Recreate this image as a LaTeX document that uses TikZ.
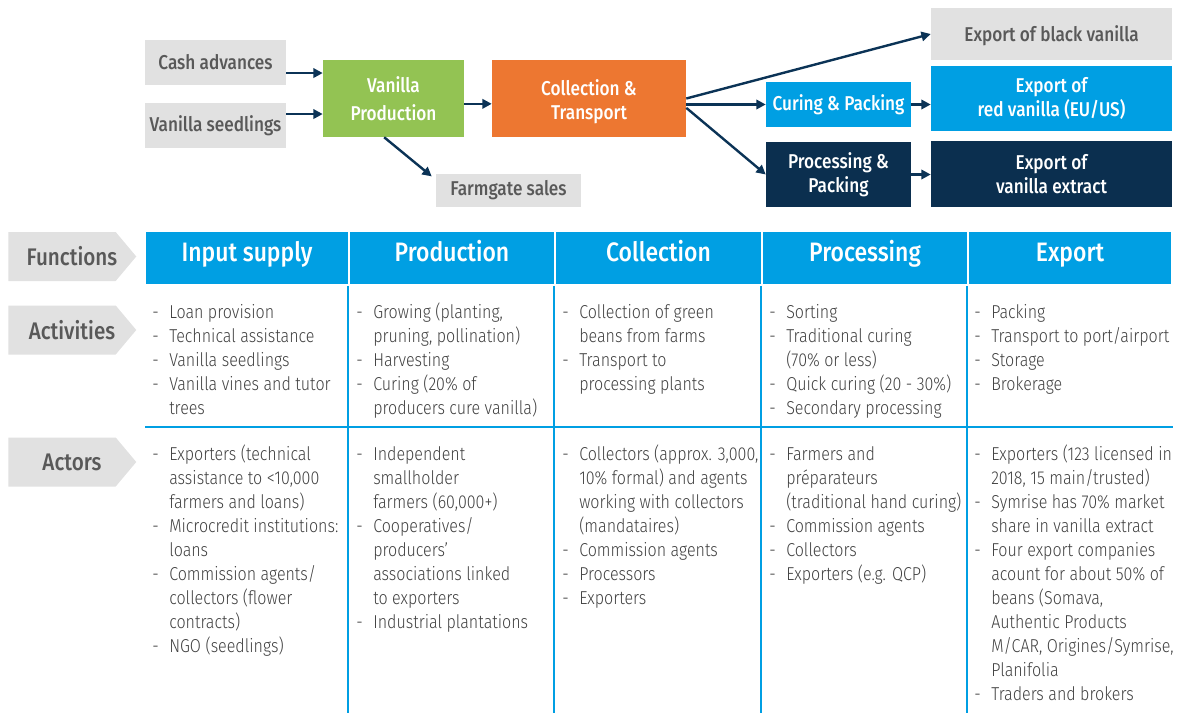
\documentclass[tikz,border=0pt]{standalone}
\usepackage{fontspec}
\IfFontExistsTF{Fira Sans Light}{%
  \IfFontExistsTF{Fira Sans Medium}{%
    \setmainfont{Fira Sans}[FakeStretch=0.86,UprightFont=* Light,BoldFont=* Medium]}{%
    \setmainfont{Fira Sans}[FakeStretch=0.86,UprightFont=* Light]}}{%
  \setmainfont{Fira Sans}[FakeStretch=0.86]}
\usetikzlibrary{arrows.meta,positioning,shapes.symbols}
\definecolor{vanGreen}{HTML}{93C353}
\definecolor{vanOrange}{HTML}{ED7731}
\definecolor{vanBlue}{HTML}{009FE3}
\definecolor{vanNavy}{HTML}{0B2F4F}
\definecolor{arrowNavy}{HTML}{0B3356}
\definecolor{boxGrey}{HTML}{E1E1E1}
\definecolor{labelGrey}{HTML}{595959}
\definecolor{bodyText}{HTML}{404040}
\newcommand{\vclist}[1]{\begin{tabular}[t]{@{}p{12.75pt}@{}l@{}}#1\end{tabular}}
\newcommand{\tagfill}[1]{\makebox[0pt]{\hspace{15pt}#1}}
\newcommand{\sinktext}[2]{\raisebox{-#1}[\height][\depth]{\begin{tabular}{@{}c@{}}#2\end{tabular}}}

\begin{document}
\begin{tikzpicture}[x=0.75pt,y=-0.75pt,
  greybox/.style={fill=boxGrey,text=labelGrey,font=\fontsize{15}{18}\selectfont\bfseries,inner sep=0pt,align=center},
  flow/.style={text=white,font=\fontsize{15}{18}\selectfont\bfseries,inner sep=0pt,align=center},
  arrow/.style={-{Triangle[length=7pt,width=7pt]},line width=1.8pt,draw=arrowNavy},
  head/.style={fill=vanBlue,draw=white,line width=1.2pt,text=white,font=\fontsize{20}{24}\selectfont\bfseries,minimum height=40.5pt,inner sep=0pt,text height=10pt,text depth=5.5pt},
  tag/.style={signal,signal to=east,signal pointer angle=100,fill=boxGrey,text=labelGrey,font=\fontsize{18}{20}\selectfont\bfseries,minimum width=96pt,minimum height=36.75pt,inner sep=0pt,anchor=west},
  cell/.style={anchor=north west,inner sep=0pt,text=bodyText,font=\fontsize{14}{18}\selectfont},
  grid/.style={draw=vanBlue,line width=1.5pt}
]
\useasboundingbox (0,0) rectangle (1177,713);

\node[greybox,minimum width=105.75pt,minimum height=33.75pt] (cash) at (215.5,62.5) {Cash advances};
\node[greybox,minimum width=105.75pt,minimum height=33.75pt] (seed) at (215.5,125.5) {Vanilla seedlings};
\node[flow,fill=vanGreen,minimum width=105.75pt,minimum height=57.75pt] (prod) at (393.5,98.5) {Vanilla\\[3pt]Production};
\node[flow,fill=vanOrange,minimum width=145.5pt,minimum height=57.75pt] (coll) at (589,98.5) {\sinktext{3.5pt}{Collection \&\\Transport}};
\node[greybox,minimum width=108.75pt,minimum height=24.75pt] (farm) at (508.5,190.5) {Farmgate sales};
\node[greybox,minimum width=180.75pt,minimum height=39pt] (black) at (1051.5,34) {\sinktext{1.8pt}{Export of black vanilla}};
\node[flow,fill=vanBlue,minimum width=108.75pt,minimum height=33.75pt] (cure) at (838.5,104.5) {Curing \& Packing};
\node[flow,fill=vanBlue,minimum width=180.75pt,minimum height=48.75pt] (red) at (1051.5,98.5) {Export of\\red vanilla (EU/US)};
\node[flow,fill=vanNavy,minimum width=108.75pt,minimum height=48.75pt] (proc) at (838.5,174.5) {Processing \&\\Packing};
\node[flow,fill=vanNavy,minimum width=180.75pt,minimum height=49.5pt] (extr) at (1051.5,174) {Export of\\vanilla extract};

\draw[arrow] ([yshift=-7.9pt]cash.east) -- ([yshift=-7.9pt]cash.east -| prod.west);
\draw[arrow] ([yshift=8.6pt]seed.east) -- ([yshift=8.6pt]seed.east -| prod.west);
\draw[arrow] ([yshift=-4pt]prod.east) -- ([yshift=-4pt]coll.west);
\draw[arrow] ([xshift=-7pt]prod.south) -- ([xshift=-3pt,yshift=-2pt]farm.north west);
\draw[arrow] (coll.east) -- (black.west);
\draw[arrow] (coll.east |- cure.west) -- (cure.west);
\draw[arrow] ([yshift=-7pt]coll.east) -- (proc.west);
\draw[arrow] (cure.east) -- (cure.east -| red.west);
\draw[arrow] (proc.east) -- (proc.east -| extr.west);

\node[tag] (fun) at (8,256.5) {\tagfill{Functions}};
\node[tag] (act) at (8,330) {\tagfill{Activities}};
\node[tag] (actr) at (8,462) {\tagfill{Actors}};

\node[head,minimum width=153pt] (h1) at (247,258) {Input supply};
\node[head,minimum width=154.5pt] (h2) at (452,258) {Production};
\node[head,minimum width=155.25pt] (h3) at (658.5,258) {Collection};
\node[head,minimum width=154.5pt] (h4) at (865,258) {Processing};
\node[head,minimum width=153pt] (h5) at (1070,258) {Export};

\coordinate (bottom) at (0,713);
\coordinate (rule) at (145,427);
\draw[grid] (rule) -- (rule -| h5.south east);
\foreach \c in {h2,h3,h4,h5}
  \draw[grid] (\c.south west) -- (\c.south west |- bottom);

\node[cell] (a1) at (152,301) {\vclist{- & Loan provision\\ - & Technical assistance\\ - & Vanilla seedlings\\ - & Vanilla vines and tutor\\ & trees}};
\node[cell] (a2) at (356,301) {\vclist{- & Growing (planting,\\ & pruning, pollination)\\ - & Harvesting\\ - & Curing (20\% of\\ & producers cure vanilla)}};
\node[cell] (a3) at (562,301) {\vclist{- & Collection of green\\ & beans from farms\\ - & Transport to\\ & processing plants}};
\node[cell] (a4) at (769,301) {\vclist{- & Sorting\\ - & Traditional curing\\ & (70\% or less)\\ - & Quick curing (20 - 30\%)\\ - & Secondary processing}};
\node[cell] (a5) at (974,301) {\vclist{- & Packing\\ - & Transport to port/airport\\ - & Storage\\ - & Brokerage}};

\node[cell] (r1) at (152,443) {\vclist{- & Exporters (technical\\ & assistance to <10,000\\ & farmers and loans)\\ - & Microcredit institutions:\\ & loans\\ - & Commission agents/\\ & collectors (flower\\ & contracts)\\ - & NGO (seedlings)}};
\node[cell] (r2) at (356,443) {\vclist{- & Independent\\ & smallholder\\ & farmers (60,000+)\\ - & Cooperatives/\\ & producers’\\ & associations linked\\ & to exporters\\ - & Industrial plantations}};
\node[cell] (r3) at (562,443) {\vclist{- & Collectors (approx. 3,000,\\ & 10\% formal) and agents\\ & working with collectors\\ & (mandataires)\\ - & Commission agents\\ - & Processors\\ - & Exporters}};
\node[cell] (r4) at (769,443) {\vclist{- & Farmers and\\ & préparateurs\\ & (traditional hand curing)\\ - & Commission agents\\ - & Collectors\\ - & Exporters (e.g. QCP)}};
\node[cell] (r5) at (974,443) {\vclist{- & Exporters (123 licensed in\\ & 2018, 15 main/trusted)\\ - & Symrise has 70\% market\\ & share in vanilla extract\\ - & Four export companies\\ & acount for about 50\% of\\ & beans (Somava,\\ & Authentic Products\\ & M/CAR, Origines/Symrise,\\ & Planifolia\\ - & Traders and brokers}};
\end{tikzpicture}
\end{document}
